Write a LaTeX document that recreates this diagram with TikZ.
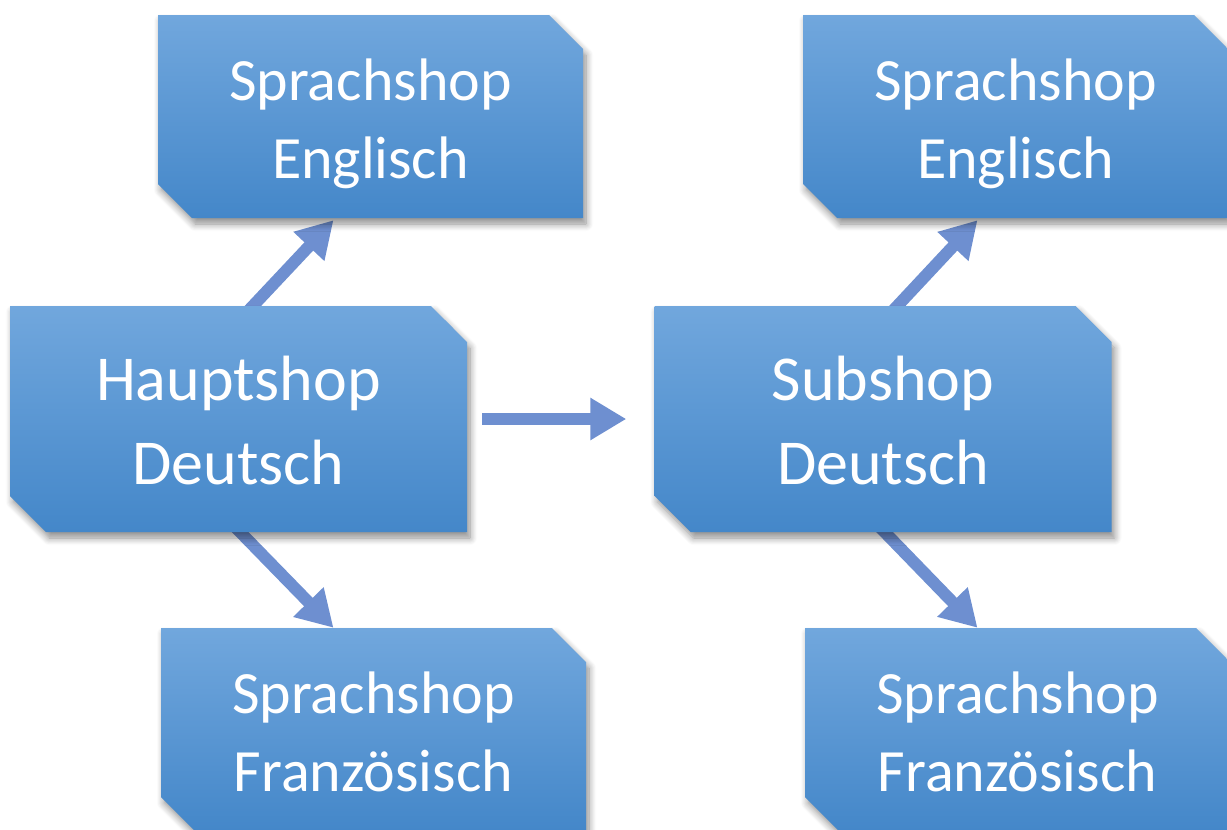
\documentclass[tikz,border=0pt]{standalone}
\usepackage{fontspec}
\setmainfont{Carlito}
\usetikzlibrary{shapes.misc,shadows.blur,arrows.meta,backgrounds}
\definecolor{boxtop}{HTML}{71A7DD}
\definecolor{boxbot}{HTML}{4487C9}
\definecolor{arrowc}{HTML}{6E8FD0}
\newcommand\lnstrut{\rule[-12pt]{0pt}{70pt}}
\tikzset{
  shopbox/.style={chamfered rectangle, chamfered rectangle corners={north east,south west},
    chamfered rectangle xsep=17pt, chamfered rectangle ysep=17pt,
    top color=boxtop, bottom color=boxbot, draw=none, inner sep=0pt,
    minimum width=425pt, minimum height=203pt, align=center, text=white,
    font=\fontsize{60}{78}\selectfont,
    blur shadow={shadow xshift=3pt, shadow yshift=-6pt, shadow blur radius=7pt, shadow blur steps=8, shadow opacity=45}},
  mainbox/.style={shopbox, minimum width=457pt, minimum height=226pt,
    chamfered rectangle xsep=18pt, chamfered rectangle ysep=18pt,
    font=\fontsize{64}{84}\selectfont},
  flowarrow/.style={draw=arrowc, line width=12pt, -{Triangle[width=40pt,length=36pt]}}
}
\begin{document}
\begin{tikzpicture}[x=1pt,y=-1pt]
\useasboundingbox (0,0) rectangle (1227,830);
\clip (0,0) rectangle (1227,830);
\node[mainbox] (haupt) at (238.5,419) {\lnstrut Hauptshop\\\lnstrut Deutsch};
\node[mainbox] (sub) at (883,419) {\lnstrut Subshop\\\lnstrut Deutsch};
\node[shopbox] (en1) at (370.5,116.5) {\lnstrut Sprachshop\\\lnstrut Englisch};
\node[shopbox] (en2) at (1015.5,116.5) {\lnstrut Sprachshop\\\lnstrut Englisch};
\node[shopbox] (fr1) at (373.5,729.5) {\lnstrut Sprachshop\\\lnstrut Französisch};
\node[shopbox] (fr2) at (1017.5,729.5) {\lnstrut Sprachshop\\\lnstrut Französisch};
\begin{scope}[on background layer]
\draw[flowarrow, shorten <=15pt, shorten >=28pt] (haupt.east) -- (sub.west);
\draw[flowarrow] ([xshift=7pt,yshift=-8pt]haupt.north) -- ([xshift=-37pt,yshift=-2pt]en1.south);
\draw[flowarrow] ([xshift=-6pt,yshift=8pt]haupt.south) -- ([xshift=-40pt]fr1.north);
\draw[flowarrow] ([xshift=7pt,yshift=-8pt]sub.north) -- ([xshift=-38pt,yshift=-2pt]en2.south);
\draw[flowarrow] ([xshift=-6pt,yshift=8pt]sub.south) -- ([xshift=-40pt]fr2.north);
\end{scope}
\end{tikzpicture}
\end{document}
